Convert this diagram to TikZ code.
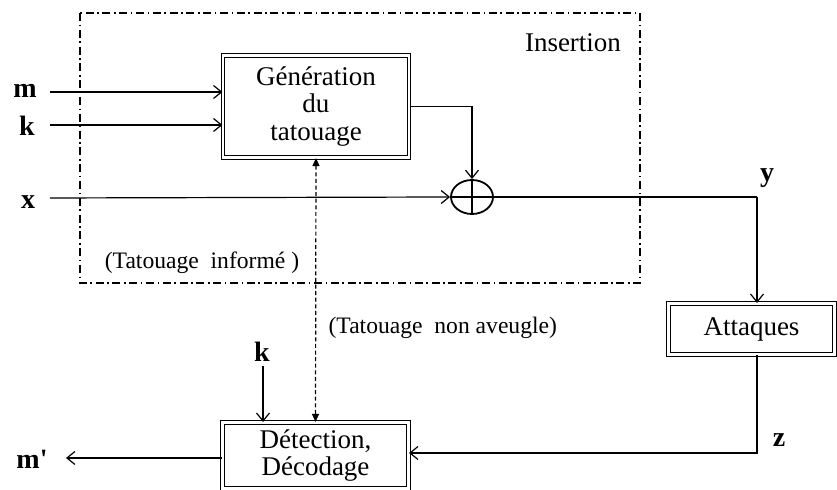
\documentclass[tikz,border=0pt]{standalone}
\usepackage{fontspec}
\setmainfont{Liberation Serif}
\usetikzlibrary{arrows.meta,shapes.geometric}
\begin{document}
\begin{tikzpicture}[x=0.5pt,y=-0.5pt,
  line width=0.6pt,
  arr/.style={-{Straight Barb[length=4pt,width=6.5pt]}},
  blk/.style={draw,double,double distance=1.1pt,line width=0.55pt,inner sep=0pt,align=center,font=\fontsize{13.5}{13.8}\selectfont},
  lbl/.style={font=\fontsize{14}{16}\selectfont\bfseries,inner sep=0pt},
  txt/.style={font=\fontsize{11.8}{14}\selectfont,inner sep=0pt},
  dashdot box/.style={line width=0.7pt,dash pattern=on 4pt off 1.8pt on 0.8pt off 1.8pt},
  dotarr/.style={line width=0.6pt,dash pattern=on 2pt off 1.3pt,{Triangle[length=4pt,width=3.5pt]}-{Triangle[length=4pt,width=3.5pt]}}]
\useasboundingbox (0,0) rectangle (837,490);
% Insertion frame
\draw[dashdot box] (80,13) rectangle (640,283);
\node[font=\fontsize{13.5}{14}\selectfont,inner sep=0pt] (ins) at (573,43) {Insertion};
\node[txt] (tinf) at (202,263) {(Tatouage\ \ informé )};
\node[txt,anchor=west] (tnav) at (328,328) {(Tatouage\ \ non aveugle)};
% blocks
\node[blk,minimum width=93pt,minimum height=51pt] (gen) at (316,106.5) {Génération\\du\\tatouage};
\node[draw,ellipse,line width=0.9pt,minimum width=21pt,minimum height=17pt,inner sep=0pt] (plus) at (472,197) {};
\node[blk,minimum width=83pt,minimum height=25.5pt] (att) at (751.5,329) {Attaques};
\node[blk,minimum width=93pt,minimum height=33pt] (det) at (315.5,455.5) {Détection,\\Décodage};
\draw[line width=0.9pt] (plus.north) -- (plus.south);
% labels
\node[lbl] (m) at (25,91) {m};
\node[lbl] (k) at (27,126) {k};
\node[lbl] (x) at (28,202) {x};
\node[lbl] (y) at (767,178) {y};
\node[lbl] (z) at (779,440) {z};
\node[lbl] (k2) at (262,352) {k};
\node[lbl] (mp) at (32,459) {m\textquotesingle};
% coordinates
\coordinate (ms) at (50,92);
\coordinate (ks) at (50,125);
\coordinate (xs) at (50,198);
\coordinate (cy) at (757,197);
\coordinate (cz) at (757,453);
\coordinate (k2s) at (263,366);
\coordinate (mpe) at (66,458);
% connectors
\draw[arr] (ms) -- (ms -| gen.west);
\draw[arr] (ks) -- (ks -| gen.west);
\draw[arr] (xs) -- (plus.west);
\draw[arr] (gen.east) -| (plus.north);
\draw (plus.west) -- (plus.east) -- (cy);
\draw[arr] (cy) -- (cy |- att.north);
\draw[arr] (cy |- att.south) -- (cz) -- (cz -| det.east);
\draw[arr] (k2s) -- (k2s |- det.north);
\draw[arr] (det.west |- mpe) -- (mpe);
\draw[dotarr] (gen.south) -- (det.north);
\end{tikzpicture}
\end{document}
